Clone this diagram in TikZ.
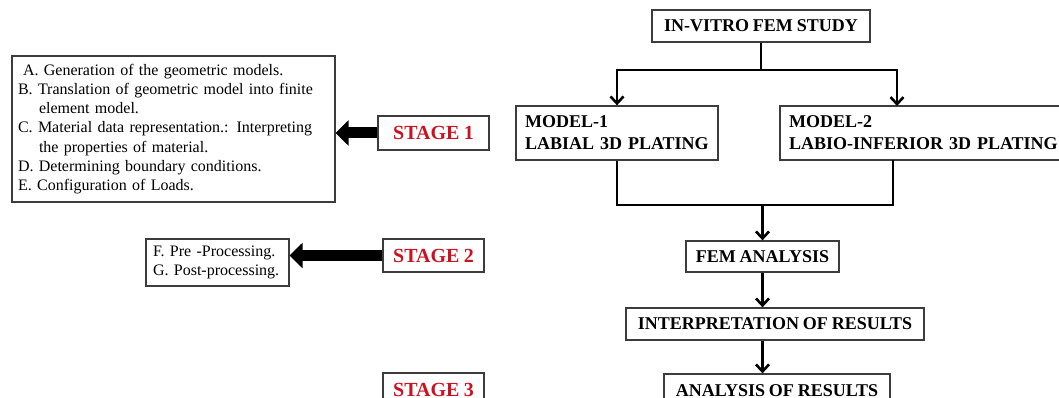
\documentclass[tikz,border=0pt]{standalone}
\usepackage{fontspec}
\setmainfont[WordSpace=0.85]{Liberation Serif}
\usetikzlibrary{arrows.meta,calc}
\definecolor{stagered}{RGB}{204,18,32}
\definecolor{boxline}{RGB}{60,60,60}
\begin{document}
\begin{tikzpicture}[x=1pt,y=-1pt,
  box/.style={draw=boxline,line width=1.3pt,fill=white,inner sep=0pt},
  headbox/.style={box,font=\fontsize{18}{21.6}\selectfont\bfseries,align=center},
  modelbox/.style={box,font=\fontsize{18}{22}\selectfont\bfseries,align=left,inner xsep=9pt},
  stagebox/.style={box,font=\fontsize{20}{24}\selectfont\bfseries,text=stagered},
  listbox/.style={box,font=\fontsize{16}{19.3}\selectfont,align=left,inner xsep=6pt},
  arr/.style={line width=2.6pt,-{Straight Barb[length=7pt,width=13pt]}},
  link/.style={line width=2.6pt},
  bigarrow/.style={line width=11pt,-{Triangle[length=13pt,width=25pt]}}]
\useasboundingbox (0,0) rectangle (1059,398);
\clip (0,0) rectangle (1059,398);
\fill[white] (0,0) rectangle (1059,398);

% right column
\node[headbox,minimum width=218pt,minimum height=32pt] (study) at (761,26) {IN-VITRO FEM STUDY};
\node[modelbox,minimum width=202pt,minimum height=54pt,text width=184pt] (m1) at (617,133) {MODEL-1\\LABIAL 3D PLATING};
\node[modelbox,minimum width=296pt,minimum height=54pt,text width=278pt] (m2) at (928,133) {MODEL-2\\LABIO-INFERIOR 3D PLATING};
\node[headbox,minimum width=153pt,minimum height=31pt] (fem) at (762.5,256.5) {FEM ANALYSIS};
\node[headbox,minimum width=298pt,minimum height=32pt] (interp) at (775,324) {INTERPRETATION OF RESULTS};
\node[headbox,minimum width=226pt,minimum height=33pt] (anal) at (777,390.5) {ANALYSIS OF RESULTS};

\coordinate (j1) at (761,70);
\coordinate (m2in) at (897,106);
\coordinate (m2out) at (893,160);
\coordinate (j2) at (762.5,205);

\draw[link] (study.south) -- (j1);
\draw[arr] (j1) -| (m1.north);
\draw[arr] (j1) -| (m2in);
\draw[link] (m1.south) |- (j2);
\draw[link] (m2out) |- (j2);
\draw[arr] (j2) -- (fem.north);
\draw[arr] (fem.south) -- (fem.south |- interp.north);
\draw[arr] (fem.south |- interp.south) -- (fem.south |- anal.north);

% left column
\node[listbox,minimum width=323pt,minimum height=146pt,text width=311pt] (lb) at (173.5,129) {%
\hspace*{5pt}A. Generation of the geometric models.\\
B. Translation of geometric model into finite\\
\hspace*{21pt}element model.\\
C. Material data representation.: Interpreting\\
\hspace*{21pt}the properties of material.\\
D. Determining boundary conditions.\\
E. Configuration of Loads.};
\node[stagebox,minimum width=111pt,minimum height=34pt] (s1) at (433.5,133) {STAGE 1};
\draw[bigarrow] (s1.west) -- (s1.west -| lb.east);

\node[listbox,minimum width=143pt,minimum height=47pt,text width=129pt,inner xsep=7pt] (fg) at (217.5,262.5) {F. Pre -Processing.\\G. Post-processing.};
\node[stagebox,minimum width=101pt,minimum height=33pt] (s2) at (433.5,255.5) {STAGE 2};
\draw[bigarrow] (s2.west) -- (s2.west -| fg.east);

\node[stagebox,minimum width=101pt,minimum height=33pt] (s3) at (433.5,389.5) {STAGE 3};
\end{tikzpicture}
\end{document}
